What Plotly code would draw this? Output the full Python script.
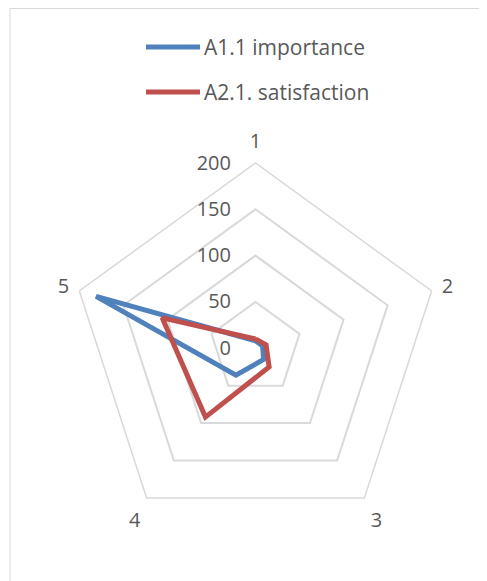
import plotly.graph_objects as go

categories = ["1", "2", "3", "4", "5"]
importance = [8, 8, 15, 36, 181]
satisfaction = [10, 12, 25, 92, 106]
series_names = ["A1.1 importance", "A2.1. satisfaction"]
series_colors = ["#4F81BD", "#C0504D"]
radial_ticks = [0, 50, 100, 150, 200]

W, H = 487, 581
OFF = 8  # page body margin shift
cx, cy, R = 255.5 - OFF, 348.2 - OFF, 185.2

fig = go.Figure()
for name, vals, col in zip(series_names, [importance, satisfaction], series_colors):
    fig.add_trace(go.Scatterpolar(
        r=vals + vals[:1], theta=categories + categories[:1],
        mode="lines", name=name, line=dict(color=col, width=5),
        showlegend=False, hoverinfo="skip"))

font = "Open Sans"
txt_col = "#595959"
fs = 20

fig.update_layout(
    width=W, height=H, margin=dict(l=0, r=0, t=0, b=0),
    paper_bgcolor="white", plot_bgcolor="white",
    polar=dict(
        domain=dict(x=[(cx - R) / W, (cx + R) / W],
                    y=[(H - cy - R) / H, (H - cy + R) / H]),
        gridshape="linear", bgcolor="white",
        angularaxis=dict(direction="clockwise", rotation=90, showgrid=False,
                         showline=True, linecolor="#D9D9D9", linewidth=1.5,
                         ticks="outside", ticklen=6, tickcolor="rgba(0,0,0,0)",
                         tickfont=dict(family=font, size=fs, color=txt_col)),
        radialaxis=dict(range=[0, 200], tickvals=radial_ticks, angle=90,
                        side="counterclockwise", showline=False,
                        ticks="outside", ticklen=17, tickcolor="rgba(0,0,0,0)",
                        tickangle=90,
                        gridcolor="#D9D9D9", gridwidth=1.5,
                        tickfont=dict(family=font, size=fs, color=txt_col)),
    ),
    showlegend=False,
)

shapes = [dict(type="rect", xref="paper", yref="paper",
               x0=(10 - OFF) / W, x1=(W + 20) / W, y0=-20 / H, y1=1 - 0.5 / H,
               line=dict(color="#D9D9D9", width=1), fillcolor="rgba(0,0,0,0)", layer="below")]
annotations = []
for i, (name, col) in enumerate(zip(series_names, series_colors)):
    y = 47 + 45 * i - OFF
    yp = 1 - y / H
    shapes.append(dict(type="line", xref="paper", yref="paper",
                       x0=(146 - OFF) / W, x1=(200 - OFF) / W, y0=yp, y1=yp,
                       line=dict(color=col, width=5)))
    annotations.append(dict(xref="paper", yref="paper", x=(202 - OFF) / W, y=yp,
                            xanchor="left", yanchor="middle", showarrow=False,
                            text=name, font=dict(family=font, size=21, color=txt_col)))
fig.update_layout(shapes=shapes, annotations=annotations)

fig.write_html("out.html")
